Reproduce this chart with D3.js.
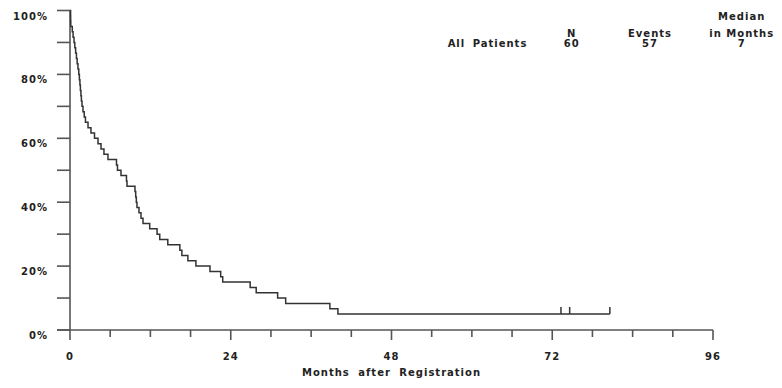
<!DOCTYPE html>
<html>
<head>
<meta charset="utf-8">
<script src="https://cdn.jsdelivr.net/npm/d3@7"></script>
<style>
  body { margin: 0; background: #fff; }
  svg { display: block; }
  text { font-family: "DejaVu Sans", sans-serif; font-weight: bold; fill: #222; letter-spacing: 1px; }
</style>
</head>
<body>
<div id="chart"></div>
<script>
// months of each death (events)
const eventMonths = [
  0.09, 0.10, 0.12, 0.34, 0.46, 0.60, 0.72, 0.84, 0.96, 1.07,
  1.19, 1.31, 1.40, 1.48, 1.55, 1.63, 1.70, 1.79, 1.94, 2.12,
  2.31, 2.69, 3.13, 3.66, 4.18, 4.63, 5.07, 5.67, 6.94, 7.09,
  7.61, 8.43, 8.51, 9.70, 9.81, 9.90, 10.0, 10.3, 10.6, 10.9,
  11.9, 13.0, 13.4, 14.6, 16.4, 16.7, 17.6, 18.8, 20.9, 22.5,
  22.8, 26.9, 27.8, 31.0, 32.2, 38.8, 40.0
];
// still alive at last follow-up
const censoredMonths = [73.3, 74.6, 80.6];

const xTicks = d3.range(0, 97, 6);
const xLabels = [0, 24, 48, 72, 96];
const yTicks = d3.range(0, 1.01, 0.1);
const yLabels = [0, 0.2, 0.4, 0.6, 0.8, 1];

const legendHead = ["N", "Events", "Median", "in Months"];
const legendGroup = "All Patients";
const legendValues = [60, 57, 7];

const width = 782, height = 388;

const x = d3.scaleLinear().domain([0, 96]).range([70, 713]);
const y = d3.scaleLinear().domain([0, 1]).range([330, 10.5]);

const svg = d3.select("#chart").append("svg")
  .attr("width", width)
  .attr("height", height);

// kaplan-meier steps
const all = eventMonths.map(t => ({t, e: 1}))
  .concat(censoredMonths.map(t => ({t, e: 0})))
  .sort((a, b) => a.t - b.t);
let atRisk = all.length, s = 1;
const km = [{t: 0, s: 1}];
const cens = [];
all.forEach(d => {
  if (d.e) { s = s * (atRisk - 1) / atRisk; km.push({t: d.t, s}); }
  else cens.push({t: d.t, s});
  atRisk--;
});
km.push({t: d3.max(all, d => d.t), s});

const axisColor = "#555";

// y axis
svg.append("line")
  .attr("x1", x(0)).attr("x2", x(0))
  .attr("y1", y(1)).attr("y2", y(0))
  .attr("stroke", axisColor).attr("stroke-width", 1.6);
svg.append("g").selectAll("line")
  .data(yTicks).join("line")
  .attr("x1", x(0) - 13).attr("x2", x(0))
  .attr("y1", d => y(d)).attr("y2", d => y(d))
  .attr("stroke", axisColor).attr("stroke-width", 1.6);
svg.append("g").selectAll("text")
  .data(yLabels).join("text")
  .attr("x", 48)
  .attr("y", d => y(d) + 9)
  .attr("text-anchor", "end")
  .attr("font-size", 10)
  .text(d => d3.format(".0%")(d));

// x axis
svg.append("line")
  .attr("x1", x(0) - 13).attr("x2", x(96))
  .attr("y1", y(0)).attr("y2", y(0))
  .attr("stroke", axisColor).attr("stroke-width", 1.6);
svg.append("g").selectAll("line")
  .data(xTicks).join("line")
  .attr("x1", d => x(d)).attr("x2", d => x(d))
  .attr("y1", y(0))
  .attr("y2", d => y(0) + (d % 24 === 0 ? 10 : 7))
  .attr("stroke", axisColor).attr("stroke-width", 1.6);
svg.append("g").selectAll("text")
  .data(xLabels).join("text")
  .attr("x", d => x(d))
  .attr("y", 360)
  .attr("text-anchor", "middle")
  .attr("font-size", 10)
  .text(d => d);
svg.append("text")
  .attr("x", (x(0) + x(96)) / 2)
  .attr("y", 376)
  .attr("text-anchor", "middle")
  .attr("font-size", 10)
  .attr("word-spacing", 4)
  .text("Months after Registration");

// survival curve
const line = d3.line()
  .x(d => x(d.t))
  .y(d => y(d.s))
  .curve(d3.curveStepAfter);
svg.append("path")
  .datum(km)
  .attr("d", line)
  .attr("fill", "none")
  .attr("stroke", "#333")
  .attr("stroke-width", 1.5);
svg.append("g").selectAll("line")
  .data(cens).join("line")
  .attr("x1", d => x(d.t)).attr("x2", d => x(d.t))
  .attr("y1", d => y(d.s)).attr("y2", d => y(d.s) - 7)
  .attr("stroke", "#333").attr("stroke-width", 1.5);

// legend table
const colX = [571.7, 650, 741.7];
const leg = svg.append("g").attr("font-size", 10).attr("text-anchor", "middle");
leg.append("text").attr("x", colX[2]).attr("y", 20).text(legendHead[2]);
leg.append("text").attr("x", colX[0]).attr("y", 37).text(legendHead[0]);
leg.append("text").attr("x", colX[1]).attr("y", 37).text(legendHead[1]);
leg.append("text").attr("x", colX[2]).attr("y", 37).text(legendHead[3]);
leg.append("text").attr("x", 487.5).attr("y", 46.5).attr("word-spacing", 3).text(legendGroup);
leg.selectAll("text.val")
  .data(legendValues).join("text")
  .attr("class", "val")
  .attr("x", (d, i) => colX[i])
  .attr("y", 46.5)
  .text(d => d);
</script>
</body>
</html>
